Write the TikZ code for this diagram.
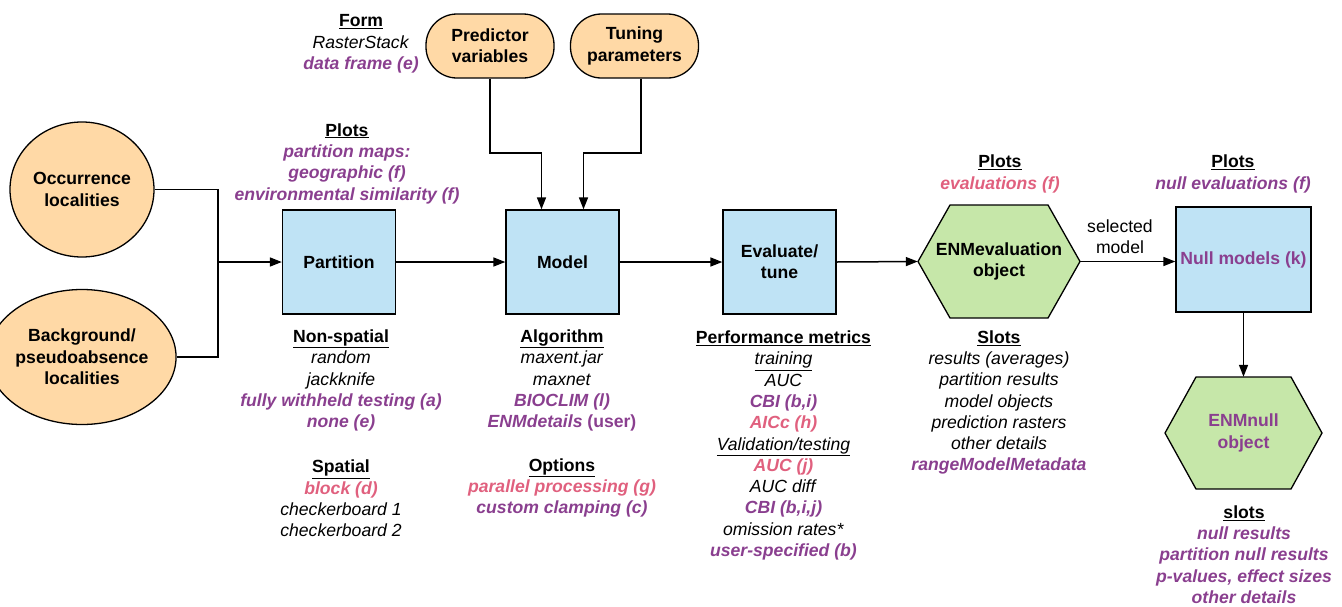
\documentclass[tikz,border=0pt]{standalone}
\usepackage{fontspec}
\setmainfont{Liberation Sans}
\usetikzlibrary{shapes.geometric,arrows.meta,calc}
\definecolor{enmpurple}{HTML}{8A3F8F}
\definecolor{enmpink}{HTML}{E0607E}
\definecolor{inputfill}{HTML}{FFD9A6}
\definecolor{stepfill}{HTML}{BFE3F5}
\definecolor{objfill}{HTML}{C6E7A9}
\newcommand{\hdr}[1]{\underline{\textbf{#1}}}
\newcommand{\purtxt}[1]{\textcolor{enmpurple}{\textbf{\textit{#1}}}}
\newcommand{\pinktxt}[1]{\textcolor{enmpink}{\textbf{\textit{#1}}}}

\begin{document}
\begin{tikzpicture}[x=1pt, y=-1pt,
  txt/.style={align=center, inner sep=0pt, yshift=-2pt, font=\fontsize{17.6}{21.3}\selectfont},
  inputcirc/.style={ellipse, draw, line width=1.3pt, fill=inputfill, minimum width=144pt, minimum height=135pt, inner sep=0pt, align=center, font=\fontsize{17.6}{21.3}\selectfont\bfseries},
  pillbox/.style={draw, line width=1.3pt, fill=inputfill, rounded corners=31pt, minimum width=128pt, minimum height=64pt, inner sep=0pt, align=center, font=\fontsize{17.6}{21.3}\selectfont\bfseries},
  stepbox/.style={draw, line width=1.3pt, fill=stepfill, minimum width=113pt, minimum height=104pt, inner sep=0pt, align=center, font=\fontsize{17.6}{21.3}\selectfont\bfseries},
  hexbox/.style={draw, line width=1.3pt, fill=objfill},
  hexlabel/.style={inner sep=0pt, align=center, font=\fontsize{17.6}{21.3}\selectfont\bfseries},
  conn/.style={line width=1.3pt},
  arr/.style={line width=1.5pt, -{Triangle[length=12pt,width=9pt]}}]
\useasboundingbox (0,0) rectangle (1342,606);

% inputs
\node[inputcirc] (occ) at (82,189.5) {Occurrence\\localities};
\node[inputcirc] (bg) at (82,357) {Background/\\pseudoabsence\\localities};
\node[pillbox] (pred) at (490,46) {Predictor\\variables};
\node[pillbox] (tune) at (634.5,46) {Tuning\\parameters};

% steps
\node[stepbox] (part) at (339,262) {Partition};
\node[stepbox] (model) at (562.5,262) {Model};
\node[stepbox] (eval) at (779.5,262) {Evaluate/\\tune};
\node[stepbox, minimum width=135pt, minimum height=105pt, text=enmpurple] (null) at (1243.5,259.5) {Null models (k)};

% objects
\filldraw[hexbox] (918,261.5) -- (950,205) -- (1048,205) -- (1080,261.5) -- (1048,318) -- (950,318) -- cycle;
\node[hexlabel, minimum width=162pt, minimum height=113pt] (enmeval) at (999,261.5) {ENMevaluation\\object};
\filldraw[hexbox] (1165,433) -- (1196,377) -- (1291,377) -- (1322,433) -- (1291,489) -- (1196,489) -- cycle;
\node[hexlabel, minimum width=157pt, minimum height=112pt, text=enmpurple] (enmnull) at (1243.5,433) {ENMnull\\object};

% notes
\node[txt] (form) at (361,42) {\hdr{Form}\\\textit{RasterStack}\\\purtxt{data frame (e)}};
\node[txt] (partplots) at (347,161.5) {\hdr{Plots}\\\purtxt{partition maps:}\\\purtxt{geographic (f)}\\\purtxt{environmental similarity (f)}};
\node[txt] (nonspatial) at (341,378.5) {\hdr{Non-spatial}\\\textit{random}\\\textit{jackknife}\\\purtxt{fully withheld testing (a)}\\\purtxt{none (e)}};
\node[txt] (spatial) at (341,496.5) {\hdr{Spatial}\\\pinktxt{block (d)}\\\textit{checkerboard 1}\\\textit{checkerboard 2}};
\node[txt] (algo) at (562,378.5) {\hdr{Algorithm}\\\textit{maxent.jar}\\\textit{maxnet}\\\purtxt{BIOCLIM (l)}\\\textcolor{enmpurple}{\textbf{\textit{ENMdetails} (user)}}};
\node[txt] (opts) at (562,486) {\hdr{Options}\\\pinktxt{parallel processing (g)}\\\purtxt{custom clamping (c)}};
\node[txt] (metrics) at (783.5,443.5) {\hdr{Performance metrics}\\\underline{\textit{training}}\\\textit{AUC}\\\purtxt{CBI (b,i)}\\\pinktxt{AICc (h)}\\\underline{\textit{Validation/testing}}\\\pinktxt{AUC (j)}\\\textit{AUC diff}\\\purtxt{CBI (b,i,j)}\\\textit{omission rates*}\\\purtxt{user-specified (b)}};
\node[txt] (evalplots) at (1000,172) {\hdr{Plots}\\\pinktxt{evaluations (f)}};
\node[txt] (slots) at (999,400.5) {\hdr{Slots}\\\textit{results (averages)}\\\textit{partition results}\\\textit{model objects}\\\textit{prediction rasters}\\\textit{other details}\\\purtxt{rangeModelMetadata}};
\node[txt] (nullplots) at (1233,172) {\hdr{Plots}\\\purtxt{null evaluations (f)}};
\node[txt] (selmod) at (1120,234.5) {selected\\model};
\node[txt] (nullslots) at (1244,552.5) {\hdr{slots}\\\purtxt{null results}\\\purtxt{partition null results}\\\purtxt{p-values, effect sizes}\\\purtxt{other details}};

% connectors
\coordinate (join) at (218,262);
\draw[conn] (occ.east) -| (join) |- (bg.east);
\draw[arr] (join) -- (part.west);
\draw[arr] (part.east) -- (model.west);
\draw[arr] (model.east) -- (eval.west);
\draw[arr] (eval.east) -- (enmeval.west);
\draw[arr] (enmeval.east) -- (enmeval.east -| null.west);
\draw[arr] (null.south) -- (enmnull.north);
\draw[arr] (pred.south) -- (490,153) -| ([xshift=-21pt]model.north);
\draw[arr] ([xshift=6.5pt]tune.south) -- (641,153) -| ([xshift=21pt]model.north);
\end{tikzpicture}
\end{document}
